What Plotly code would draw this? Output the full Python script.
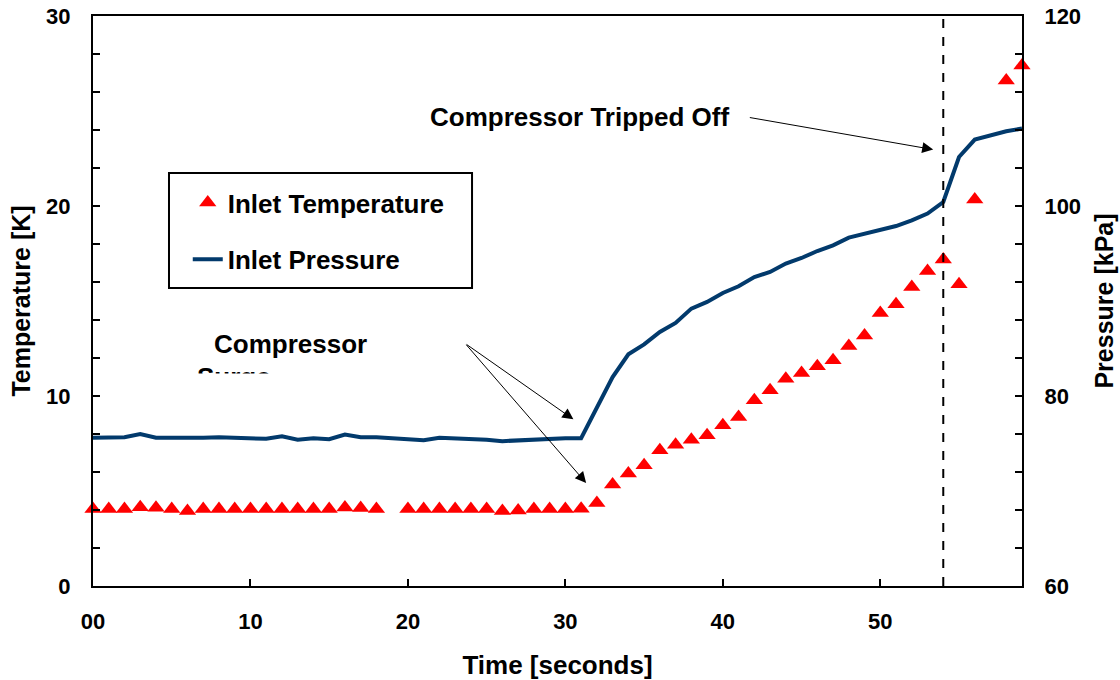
import plotly.graph_objects as go

# ---- data ----
time_s = list(range(0, 60))

inlet_temperature_K = [
    4.05, 4.05, 4.05, 4.15, 4.12, 4.05, 3.95, 4.05, 4.05, 4.05,   # 0-9
    4.05, 4.05, 4.05, 4.05, 4.05, 4.05, 4.13, 4.10, 4.05, None,   # 10-19
    4.05, 4.05, 4.05, 4.05, 4.05, 4.05, 3.95, 3.97, 4.05, 4.05,   # 20-29
    4.05, 4.07, 4.37, 5.34, 5.92, 6.35, 7.14, 7.44, 7.70, 7.93,   # 30-39
    8.46, 8.90, 9.77, 10.30, 10.91, 11.21, 11.56, 11.88, 12.63, 13.19,  # 40-49
    14.37, 14.83, 15.74, 16.58, 17.19, 15.88, 20.34, None, 26.6, 27.4,  # 50-59
]

inlet_pressure_kPa = [
    75.60, 75.65, 75.65, 76.00, 75.60, 75.60, 75.55, 75.60, 75.65, 75.60,  # 0-9
    75.60, 75.50, 75.75, 75.40, 75.55, 75.45, 75.95, 75.65, 75.65, 75.55,  # 10-19
    75.45, 75.35, 75.60, 75.55, 75.50, 75.40, 75.25, 75.35, 75.35, 75.55,  # 20-29
    75.55, 75.55, 78.84, 82.00, 84.39, 85.44, 86.74, 87.69, 89.20, 89.90,  # 30-39
    90.84, 91.55, 92.53, 93.05, 93.94, 94.53, 95.26, 95.86, 96.67, 97.09,  # 40-49
    97.52, 97.89, 98.49, 99.20, 100.42, 105.16, 106.99, 107.44, 107.86, 108.15,  # 50-59
]

x_tick_vals = [0, 10, 20, 30, 40, 50]
x_tick_text = ["00", "10", "20", "30", "40", "50"]
trip_time_s = 54

FONT = "Liberation Sans, Arial, sans-serif"
BIG = 26
VTITLE = 25
TICK = 22

fig = go.Figure()

fig.add_trace(go.Scatter(
    x=time_s, y=inlet_temperature_K, name="Inlet Temperature",
    mode="markers", legendgroup="t",
    marker=dict(symbol="triangle-up", size=15, color="#FF0000", line=dict(width=0)),
    cliponaxis=False, yaxis="y",
))
fig.add_trace(go.Scatter(
    x=time_s, y=inlet_pressure_kPa, name="Inlet Pressure",
    mode="lines", legendgroup="p",
    line=dict(color="#023A6C", width=4),
    yaxis="y2",
))

axis_font = dict(family=FONT, size=TICK, color="black", weight="bold")
title_font = dict(family=FONT, size=BIG, color="black", weight="bold")
vtitle_font = dict(family=FONT, size=VTITLE, color="black", weight="bold")

fig.update_layout(
    width=1120, height=680,
    margin=dict(l=93, r=98, t=16, b=94, autoexpand=False),
    paper_bgcolor="white", plot_bgcolor="white",
    showlegend=True,
    legend=dict(
        x=0.102, y=0.714, xanchor="left", yanchor="top",
        bgcolor="rgba(0,0,0,0)", borderwidth=0,
        font=dict(family=FONT, size=BIG, color="black", weight="bold"),
        traceorder="grouped", tracegroupgap=20,
        itemsizing="trace",
    ),
    xaxis=dict(
        range=[0, 59], tickvals=x_tick_vals, ticktext=x_tick_text,
        ticks="inside", ticklen=7, tickwidth=2, tickcolor="black",
        showline=True, linecolor="black", linewidth=2, mirror=True,
        showgrid=False, zeroline=False, automargin=False,
        tickfont=axis_font, ticklabelstandoff=15,
        title=dict(text="Time [seconds]", font=title_font, standoff=22),
    ),
    yaxis=dict(
        range=[0, 30], tickvals=[0, 10, 20, 30],
        ticks="inside", ticklen=7, tickwidth=2, tickcolor="black",
        minor=dict(dtick=2, ticks="inside", ticklen=7, tickwidth=2, tickcolor="black", showgrid=False),
        showline=True, linecolor="black", linewidth=2,
        showgrid=False, zeroline=False, automargin=False,
        tickfont=axis_font, ticklabelstandoff=16,
        title=dict(text="Temperature [K]", font=vtitle_font, standoff=8),
    ),
    yaxis2=dict(
        range=[60, 120], tickvals=[60, 80, 100, 120],
        overlaying="y", side="right",
        ticks="inside", ticklen=7, tickwidth=2, tickcolor="black",
        minor=dict(dtick=4, ticks="inside", ticklen=7, tickwidth=2, tickcolor="black", showgrid=False),
        showline=True, linecolor="black", linewidth=2,
        showgrid=False, zeroline=False, automargin=False,
        tickfont=axis_font, ticklabelstandoff=16,
        title=dict(text="Pressure [kPa]", font=vtitle_font, standoff=15),
    ),
)

# dashed trip line and legend frame
fig.add_shape(type="line", xref="x", yref="paper", x0=trip_time_s, x1=trip_time_s, y0=0, y1=1,
              line=dict(color="black", width=2, dash="dash"), layer="above")
fig.add_shape(type="rect", xref="paper", yref="paper", x0=0.0818, x1=0.408, y0=0.5228, y1=0.7246,
              line=dict(color="black", width=2), fillcolor="rgba(0,0,0,0)", layer="above")

ann_font = dict(family=FONT, size=BIG, color="black", weight="bold")

# text labels
fig.add_annotation(x=30.88, y=24.67, xref="x", yref="y", text="Compressor Tripped Off",
                   showarrow=False, font=ann_font, xanchor="center", yanchor="middle")
fig.add_annotation(x=12.54, y=12.72, xref="x", yref="y", text="Compressor",
                   showarrow=False, font=ann_font, xanchor="center", yanchor="middle")
fig.add_annotation(x=6.5, y=10.98, xref="x", yref="y", text="Surge",
                   showarrow=False, font=ann_font, xanchor="left", yanchor="middle")
# the second line of the label is cut off in the original
fig.add_annotation(x=9.3, y=10.51, xref="x", yref="y", text=" ", showarrow=False,
                   width=120, height=22, bgcolor="white", xanchor="center", yanchor="middle")

# arrows
arrow_style = dict(showarrow=True, arrowhead=2, arrowsize=2.2, arrowwidth=1, arrowcolor="black",
                   xref="x", yref="y", axref="x", ayref="y", text="", standoff=0, startstandoff=0)
fig.add_annotation(x=53.36, y=22.97, ax=41.62, ay=24.67, **arrow_style)
fig.add_annotation(x=30.51, y=8.77, ax=23.63, ay=12.77, **arrow_style)
fig.add_annotation(x=31.32, y=5.42, ax=23.63, ay=12.77, **arrow_style)

fig.write_html("out.html")
